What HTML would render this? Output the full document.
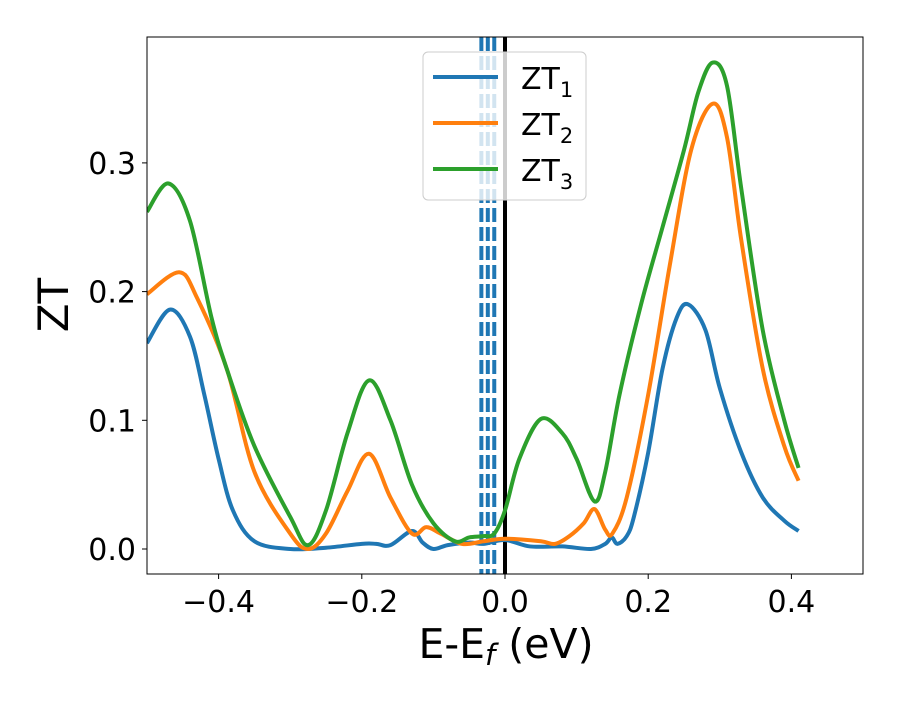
<!DOCTYPE html>
<html><head><meta charset="utf-8"><style>body{margin:0;background:#fff}svg{font-family:"DejaVu Sans","Liberation Sans",sans-serif}</style></head>
<body>
<svg id="chart" width="900" height="700" viewBox="0 0 900 700">
<rect width="900" height="700" fill="#fff"/>
<g id="plot"></g>
</svg>
<script>
const xTicks=[-0.4,-0.2,0.0,0.2,0.4];
const xTickLabels=["−0.4","−0.2","0.0","0.2","0.4"];
const yTicks=[0.0,0.1,0.2,0.3];
const yTickLabels=["0.0","0.1","0.2","0.3"];
const dashedE=[-0.033,-0.024,-0.015];
const zt1E=[-0.5,-0.468,-0.44,-0.42,-0.4,-0.38,-0.35,-0.3,-0.25,-0.2,-0.18,-0.16,-0.13,-0.115,-0.1,-0.08,-0.05,-0.03,0,0.035,0.08,0.12,0.14,0.149,0.157,0.17,0.18,0.2,0.22,0.24,0.256,0.28,0.3,0.33,0.36,0.39,0.41];
const zt1V=[0.160,0.186,0.165,0.12,0.07,0.03,0.006,0.0,0.001,0.004,0.004,0.003,0.014,0.005,0.0,0.003,0.005,0.004,0.007,0.002,0.002,0.0,0.004,0.009,0.004,0.01,0.025,0.075,0.14,0.18,0.19,0.17,0.125,0.075,0.04,0.022,0.014];
const zt2E=[-0.5,-0.455,-0.43,-0.388,-0.35,-0.3,-0.275,-0.25,-0.22,-0.19,-0.16,-0.13,-0.11,-0.09,-0.06,-0.03,0,0.05,0.07,0.09,0.11,0.125,0.14,0.15,0.17,0.2,0.23,0.26,0.29,0.31,0.33,0.36,0.39,0.41];
const zt2V=[0.198,0.215,0.195,0.139,0.06,0.012,0.0,0.012,0.045,0.074,0.04,0.012,0.017,0.012,0.004,0.006,0.008,0.006,0.004,0.01,0.02,0.031,0.015,0.012,0.04,0.12,0.22,0.31,0.346,0.32,0.24,0.14,0.08,0.053];
const zt3E=[-0.5,-0.47,-0.44,-0.41,-0.388,-0.35,-0.3,-0.275,-0.25,-0.22,-0.19,-0.16,-0.13,-0.1,-0.07,-0.05,-0.03,-0.015,0,0.02,0.05,0.08,0.1,0.125,0.14,0.16,0.19,0.22,0.25,0.27,0.29,0.31,0.33,0.36,0.39,0.41];
const zt3V=[0.262,0.284,0.255,0.18,0.139,0.08,0.025,0.003,0.03,0.09,0.131,0.1,0.05,0.02,0.006,0.009,0.01,0.012,0.03,0.07,0.101,0.09,0.07,0.037,0.06,0.12,0.19,0.25,0.31,0.355,0.378,0.36,0.28,0.17,0.1,0.063];

const L=147,R=863,T=37,B=574;
const X=e=>L+(e+0.5)/1.0*(R-L);
const Y=v=>549-v*1287;
const NS="http://www.w3.org/2000/svg";
const g=document.getElementById('plot');
function mk(t,a,p){const el=document.createElementNS(NS,t);for(const k in a)el.setAttribute(k,a[k]);(p||g).appendChild(el);return el;}
function path(E,V){const P=E.map((e,i)=>[X(e),Y(V[i])]);let d=`M${P[0][0]},${P[0][1]}`;
for(let i=0;i<P.length-1;i++){const p0=P[Math.max(0,i-1)],p1=P[i],p2=P[i+1],p3=P[Math.min(P.length-1,i+2)];
d+=` C${p1[0]+(p2[0]-p0[0])/6},${p1[1]+(p2[1]-p0[1])/6} ${p2[0]-(p3[0]-p1[0])/6},${p2[1]-(p3[1]-p1[1])/6} ${p2[0]},${p2[1]}`;}return d;}
const clip=mk('clipPath',{id:'c'});mk('rect',{x:L,y:T,width:R-L,height:B-T},clip);
dashedE.forEach(e=>{const l=mk('line',{x1:X(e),x2:X(e),y1:T,y2:B,stroke:'#1f77b4','stroke-width':4,'stroke-dasharray':'14,5'});
});
const z=mk('line',{x1:X(0),x2:X(0),y1:T,y2:B,stroke:'#000','stroke-width':4});

[[zt1E,zt1V,'#1f77b4','zt1-line'],[zt2E,zt2V,'#ff7f0e','zt2-line'],[zt3E,zt3V,'#2ca02c','zt3-line']].forEach(s=>{
const p=mk('path',{d:path(s[0],s[1]),fill:'none',stroke:s[2],'stroke-width':4,'clip-path':'url(#c)'});
});
const fr=mk('rect',{x:L,y:T,width:R-L,height:B-T,fill:'none',stroke:'#000','stroke-width':1});

xTicks.forEach((t,i)=>{mk('line',{x1:X(t),x2:X(t),y1:B,y2:B+5,stroke:'#000'});
const tx=mk('text',{x:X(t),y:B+38,'font-size':30,'text-anchor':'middle'});tx.textContent=xTickLabels[i];
});
yTicks.forEach((t,i)=>{mk('line',{x1:L-5,x2:L,y1:Y(t),y2:Y(t),stroke:'#000'});
const tx=mk('text',{x:L-11,y:Y(t)+11,'font-size':30,'text-anchor':'end'});tx.textContent=yTickLabels[i];
});
const xl=mk('text',{x:506,y:658,'font-size':41,'text-anchor':'middle'});xl.innerHTML='E-E<tspan font-style="italic" font-size="29" dy="7">f</tspan><tspan dy="-7"> (eV)</tspan>';

const yl=mk('text',{x:0,y:0,'font-size':42,'text-anchor':'middle',transform:'translate(68,305) rotate(-90)'});yl.textContent='ZT';

const lg=mk('g',{});
mk('rect',{x:423,y:52,width:163,height:148,rx:5,fill:'#fff','fill-opacity':0.8,stroke:'#ccc'},lg);
[['#1f77b4','1'],['#ff7f0e','2'],['#2ca02c','3']].forEach((s,i)=>{const y=77+i*46;
mk('line',{x1:433,x2:498,y1:y,y2:y,stroke:s[0],'stroke-width':4},lg);
const t=mk('text',{x:521,y:y+12,'font-size':30},lg);t.innerHTML='ZT<tspan font-size="21" dy="8">'+s[1]+'</tspan>';
});
</script>
</body></html>
